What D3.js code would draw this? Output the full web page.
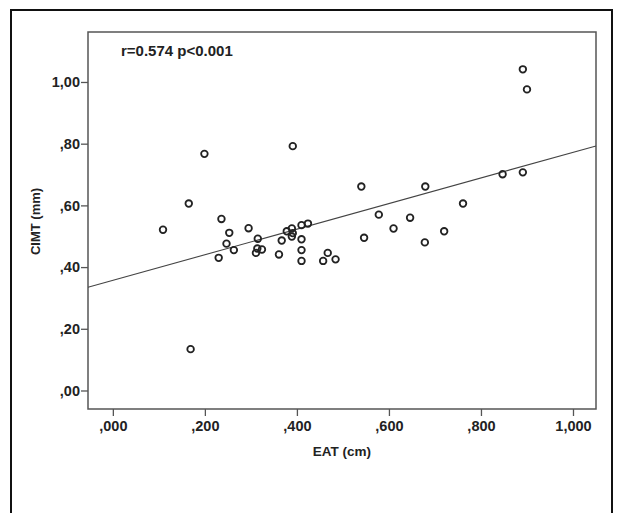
<!DOCTYPE html>
<html lang="en">
<head>
  <meta charset="UTF-8" />
  <title>CIMT vs EAT</title>
  <script src="https://d3js.org/d3.v7.min.js"></script>
  <style>
    body { margin: 0; padding: 0; background: #fff; }
    svg { display: block; }
    text { font-family: "Liberation Sans", Arial, sans-serif; font-weight: bold; fill: #222; }
    .tick line { stroke: #555; stroke-width: 1.3px; }
    .dot { fill: none; stroke: #222; stroke-width: 1.8px; }
  </style>
</head>
<body>
  <svg width="617" height="513"></svg>
  <script>
    // EAT (cm) values
    const eat = [0.891, 0.900, 0.391, 0.199, 0.847, 0.891, 0.540, 0.679, 0.165, 0.761,
                 0.578, 0.646, 0.236, 0.109, 0.295, 0.610, 0.720, 0.253, 0.410, 0.424,
                 0.378, 0.389, 0.391, 0.389, 0.546, 0.315, 0.410, 0.367, 0.247, 0.678,
                 0.263, 0.314, 0.324, 0.311, 0.410, 0.361, 0.467, 0.230, 0.410, 0.457,
                 0.484, 0.169];
    // CIMT (mm) values
    const cimt = [1.041, 0.976, 0.792, 0.767, 0.701, 0.707, 0.661, 0.661, 0.606, 0.606,
                  0.570, 0.560, 0.556, 0.521, 0.526, 0.525, 0.516, 0.511, 0.536, 0.541,
                  0.516, 0.525, 0.510, 0.499, 0.495, 0.492, 0.490, 0.486, 0.476, 0.480,
                  0.455, 0.460, 0.457, 0.446, 0.455, 0.441, 0.446, 0.430, 0.420, 0.420,
                  0.425, 0.134];
    const xTicks = [0, 0.2, 0.4, 0.6, 0.8, 1.0];
    const xTickLabels = [",000", ",200", ",400", ",600", ",800", "1,000"];
    const yTicks = [0, 0.2, 0.4, 0.6, 0.8, 1.0];
    const yTickLabels = [",00", ",20", ",40", ",60", ",80", "1,00"];
    const fit = { intercept: 0.357, slope: 0.415 };
    const annotation = "r=0.574 p<0.001";

    const svg = d3.select("svg");
    const plot = { left: 88, top: 32, right: 596, bottom: 409 };

    const x = d3.scaleLinear().domain([-0.054, 1.05]).range([plot.left, plot.right]);
    const y = d3.scaleLinear().domain([-0.06, 1.162]).range([plot.bottom, plot.top]);

    // outer frame
    svg.append("rect")
      .attr("x", 11).attr("y", 10)
      .attr("width", 601).attr("height", 520)
      .attr("fill", "none")
      .attr("stroke", "#111")
      .attr("stroke-width", 2);

    // plot border
    svg.append("rect")
      .attr("x", plot.left).attr("y", plot.top)
      .attr("width", plot.right - plot.left).attr("height", plot.bottom - plot.top)
      .attr("fill", "#fff")
      .attr("stroke", "#555")
      .attr("stroke-width", 1.5);

    const xAxis = svg.append("g")
      .attr("transform", `translate(0,${plot.bottom})`)
      .call(d3.axisBottom(x)
        .tickValues(xTicks)
        .tickFormat((d, i) => xTickLabels[i])
        .tickSize(7)
        .tickPadding(5)
        .tickSizeOuter(0));
    xAxis.select(".domain").remove();
    xAxis.selectAll("text").style("font-size", "14.5px").attr("fill", "#222");

    const yAxis = svg.append("g")
      .attr("transform", `translate(${plot.left},0)`)
      .call(d3.axisLeft(y)
        .tickValues(yTicks)
        .tickFormat((d, i) => yTickLabels[i])
        .tickSize(7)
        .tickPadding(1)
        .tickSizeOuter(0));
    yAxis.select(".domain").remove();
    yAxis.selectAll("text").style("font-size", "14.5px").attr("fill", "#222");

    // fit line
    const xd = x.domain();
    svg.append("line")
      .attr("x1", x(xd[0])).attr("y1", y(fit.intercept + fit.slope * xd[0]))
      .attr("x2", x(xd[1])).attr("y2", y(fit.intercept + fit.slope * xd[1]))
      .attr("stroke", "#444")
      .attr("stroke-width", 1.1);

    // points
    svg.append("g").selectAll("circle")
      .data(eat.map((v, i) => [v, cimt[i]]))
      .join("circle")
      .attr("class", "dot")
      .attr("cx", d => x(d[0]))
      .attr("cy", d => y(d[1]))
      .attr("r", 3.3);

    svg.append("text")
      .attr("x", 121).attr("y", 56)
      .style("font-size", "15px")
      .text(annotation);

    svg.append("text")
      .attr("x", 342).attr("y", 456)
      .attr("text-anchor", "middle")
      .style("font-size", "13.5px")
      .text("EAT (cm)");

    svg.append("text")
      .attr("transform", "translate(39.5,221.5) rotate(-90)")
      .attr("text-anchor", "middle")
      .style("font-size", "13px")
      .text("CIMT (mm)");
  </script>
</body>
</html>
